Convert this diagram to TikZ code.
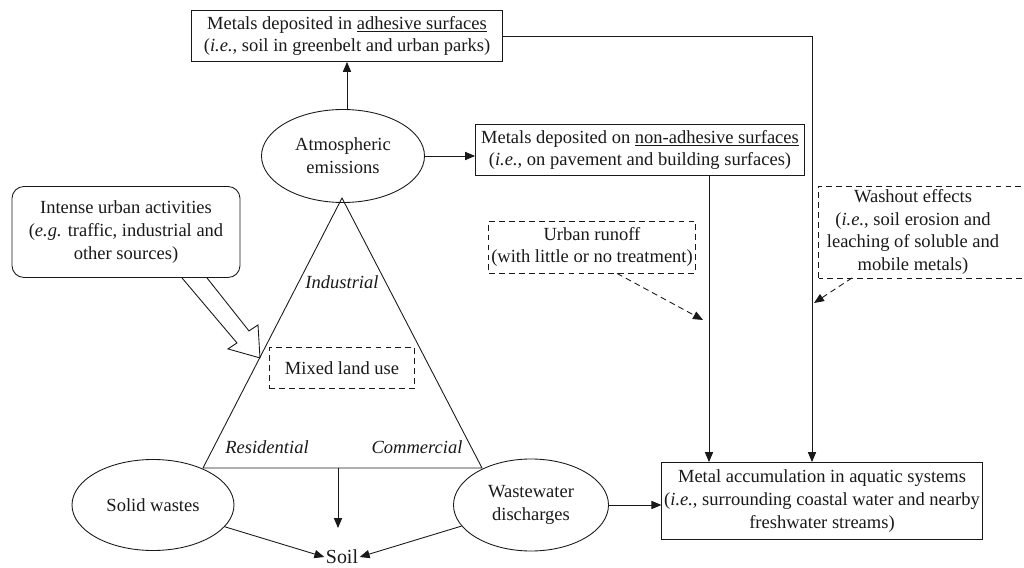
\documentclass[tikz,border=0pt]{standalone}
\usepackage{fontspec}
\setmainfont{Liberation Serif}
\usetikzlibrary{shapes.geometric,arrows.meta,calc}
\tikzset{
  box/.style={draw, rectangle, align=center, inner sep=2pt, font=\fontsize{15.8}{19.5}\selectfont},
  dbox/.style={box, dashed, dash pattern=on 5pt off 3.5pt},
  oval/.style={draw, ellipse, align=center, inner sep=0pt, font=\fontsize{15.8}{19.5}\selectfont},
  lbl/.style={font=\fontsize{15.8}{19.5}\selectfont\itshape},
  arr/.style={-{Triangle[length=8.5pt,width=7pt]}},
  darr/.style={arr, dashed, dash pattern=on 5pt off 3.5pt}
}
\begin{document}
\begin{tikzpicture}[x=0.03cm, y=-0.03cm, line width=0.75pt, color=black!90]
  \useasboundingbox (0,0) rectangle (1024,568);
  \clip (0,0) rectangle (1024,568);
  % sources and deposits
  \node[box, minimum width=9.33cm, minimum height=1.53cm] (adh) at (347,36)
    {Metals deposited in \underline{adhesive surfaces}\\(\textit{i.e.}, soil in greenbelt and urban parks)};
  \node[oval, minimum width=4.89cm, minimum height=2.79cm] (atm) at (343,156) {Atmospheric\\emissions};
  \node[box, minimum width=9.87cm, minimum height=1.53cm] (nonadh) at (640,150)
    {Metals deposited on \underline{non-adhesive surfaces}\\(\textit{i.e.}, on pavement and building surfaces)};
  \node[dbox, minimum width=6.15cm, minimum height=1.56cm] (runoff) at (592,247)
    {Urban runoff\\(with little or no treatment)};
  \node[box, draw=none, minimum width=5.64cm, minimum height=2.73cm] (wash) at (913,232)
    {Washout effects\\(\textit{i.e.}, soil erosion and\\leaching of soluble and\\mobile metals)};
  \draw[dashed, dash pattern=on 5pt off 3.5pt] (wash.south west) rectangle ($(wash.north east)+(40,0)$);
  \node[box, rounded corners=0.36cm, minimum width=6.84cm, minimum height=2.73cm] (urban) at (126,232)
    {Intense urban activities\\(\textit{e.g.} traffic, industrial and\\other sources)};
  % land use triangle
  \coordinate (top) at (342,198);
  \coordinate (bl) at (203,468);
  \coordinate (br) at (482,468);
  \draw (top) -- (bl) -- (br) -- cycle;
  \node[lbl] (ind) at (342,282) {Industrial};
  \node[lbl] (res) at (267,447) {Residential};
  \node[lbl] (com) at (417,447) {Commercial};
  \node[dbox, minimum width=4.35cm, minimum height=1.23cm] (mixed) at (342,368) {Mixed land use};
  % sinks
  \node[oval, minimum width=4.86cm, minimum height=2.73cm] (solid) at (153,505) {Solid wastes};
  \node[oval, minimum width=4.65cm, minimum height=2.76cm] (waste) at (531,505) {Wastewater\\discharges};
  \node[font=\fontsize{17}{20}\selectfont, inner sep=1pt] (soil) at (342,557) {Soil};
  \node[box, minimum width=9.45cm, minimum height=2.31cm] (aqua) at (822,501)
    {Metal accumulation in aquatic systems\\(\textit{i.e.}, surrounding coastal water and nearby\\freshwater streams)};
  \coordinate (bm) at (338,468);
  \coordinate (rtip) at (703,320);
  \coordinate (wtip) at (814,303);
  % connectors
  \draw[arr] (atm.north -| adh.south) -- (adh.south);
  \draw[arr] (atm.east) -- (atm.east -| nonadh.west);
  \draw[arr] (adh.east) -| ($(aqua.north)+(-10,0)$);
  \draw[arr] ($(nonadh.south)+(69,0)$) -- ($(aqua.north)+(-113,0)$);
  \draw[darr] ($(runoff.south)+(25,0)$) -- (rtip);
  \draw[darr] ($(wash.south)+(-61,0)$) -- (wtip);
  \draw[arr] (bm) -- ++(0,60);
  \draw[arr] (solid) -- (soil.west);
  \draw[arr] (waste) -- (soil.east);
  \draw[arr] (waste.east) -- (waste.east -| aqua.west);
  % hollow arrow into the triangle
  \draw[line join=miter] ($(urban.south)+(56,0)$) -- ++(55,65) -- ++(-9,6) -- ++(32,9)
    -- ++(-2,-33) -- ++(-9,6) -- ++(-42,-53);
\end{tikzpicture}
\end{document}
